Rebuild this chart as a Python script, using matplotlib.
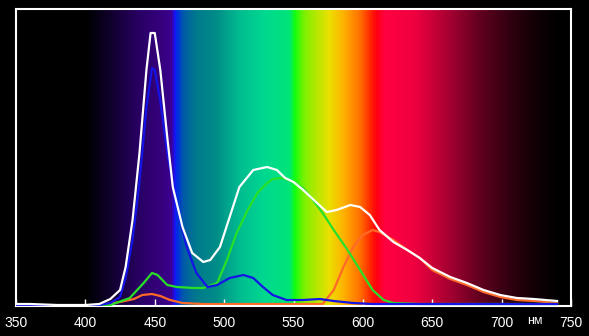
import numpy as np
import matplotlib
matplotlib.use('Agg')
import matplotlib.pyplot as plt
from matplotlib.colors import LinearSegmentedColormap

# Spectral curves (relative intensity)
white_nm = [350, 360, 380, 400, 410, 418, 425, 429, 434, 439, 444, 447, 450, 454, 459, 463, 470, 477,
            485, 490, 497, 504, 511, 521, 531, 538, 544, 550, 557, 567, 574, 581, 591, 598, 605,
            612, 622, 632, 641, 650, 663, 675, 687, 699, 711, 723, 740]
white_val = [2, 2, 1, 1, 2, 7, 16, 39, 86, 153, 236, 273, 273, 236, 169, 119, 79, 53,
             44, 46, 59, 89, 119, 136, 139, 136, 128, 124, 116, 103, 94, 96, 101, 99, 91,
             76, 64, 56, 48, 38, 29, 23, 16, 11, 8, 7, 5]

blue_nm = [350, 400, 410, 418, 425, 429, 434, 439, 444, 448, 450, 454, 459, 466, 473, 480, 488,
           495, 504, 514, 521, 528, 535, 545, 557, 569, 579, 593, 607, 641, 700, 740]
blue_val = [0, 0, 1, 3, 9, 28, 66, 124, 198, 238, 236, 205, 153, 99, 59, 33, 19,
            21, 28, 31, 28, 19, 11, 6, 6, 7, 5, 3, 2, 2, 2, 2]

green_nm = [350, 410, 418, 432, 442, 448, 452, 459, 466, 478, 485, 495, 502, 509, 517, 524, 531,
            535, 542, 550, 557, 564, 571, 579, 589, 598, 607, 615, 622, 641, 700, 740]
green_val = [0, 0, 1, 8, 23, 33, 31, 21, 19, 18, 18, 23, 46, 73, 96, 113, 123,
             127, 128, 124, 118, 106, 93, 76, 56, 36, 16, 6, 3, 2, 2, 2]

red_nm = [350, 410, 425, 435, 441, 448, 454, 461, 470, 485, 520, 565, 571, 579, 586, 593, 600,
          607, 612, 622, 632, 641, 650, 663, 675, 687, 699, 711, 723, 740]
red_val = [0, 1, 4, 7, 11, 12, 10, 6, 3, 2, 2, 2, 2, 16, 39, 59, 71,
           76, 74, 66, 56, 48, 36, 27, 21, 14, 9, 6, 5, 3]

ticks = [350, 400, 450, 500, 550, 600, 650, 700, 750]

# background spectrum colour stops
spec_nm = [350, 400, 410, 425, 440, 455, 462, 464, 466, 470, 480, 494, 511, 529, 547, 551, 558,
           576, 587, 598, 606, 610, 616, 638, 662, 684, 706, 728, 742, 750]
spec_col = ['#000000', '#000000', '#08001a', '#1a0040', '#2a0068', '#36007e', '#3c0092', '#1a10ff',
            '#0030e0', '#005aa8', '#007a8c', '#008c88', '#00bc90', '#00d890', '#00e478', '#10ff10',
            '#80f000', '#ece000', '#ffae00', '#ff7000', '#ff2800', '#ff0010', '#ff0040', '#f00040',
            '#a80032', '#640020', '#320010', '#0e0004', '#000000', '#000000']

ymax = 297

fig = plt.figure(figsize=(5.89, 3.36), dpi=100, facecolor='black')
ax = fig.add_axes([16 / 589, 30 / 336, 555 / 589, 297 / 336])
ax.set_facecolor('black')

pos = [(n - 350) / 400 for n in spec_nm]
cmap = LinearSegmentedColormap.from_list('spec', list(zip(pos, spec_col)))
grad = np.linspace(0, 1, 800).reshape(1, -1)
ax.imshow(grad, cmap=cmap, aspect='auto', extent=[350, 750, 0, ymax], zorder=0)

ax.plot(red_nm, red_val, color='#ff6a28', lw=1.6, zorder=2)
ax.plot(green_nm, green_val, color='#28e028', lw=1.6, zorder=3)
ax.plot(blue_nm, blue_val, color='#1414e6', lw=1.6, zorder=4)
ax.plot(white_nm, white_val, color='white', lw=1.6, zorder=5)

ax.set_xlim(350, 750)
ax.set_ylim(0, ymax)
ax.set_yticks([])
ax.set_xticks(ticks)
ax.set_xticklabels([str(t) for t in ticks], color='white', fontsize=10,
                   family=['Liberation Sans Narrow', 'Liberation Sans'])
ax.tick_params(axis='x', direction='in', length=5, width=1, color='white', pad=7)
for s in ax.spines.values():
    s.set_color('white')
    s.set_linewidth(1.5)

# unit label under the axis
ax.text(724, -18, 'нм', color='white', fontsize=9, ha='center', va='baseline',
        family=['Liberation Sans', 'DejaVu Sans'], clip_on=False)

plt.savefig('out.png', dpi=100, facecolor='black')
